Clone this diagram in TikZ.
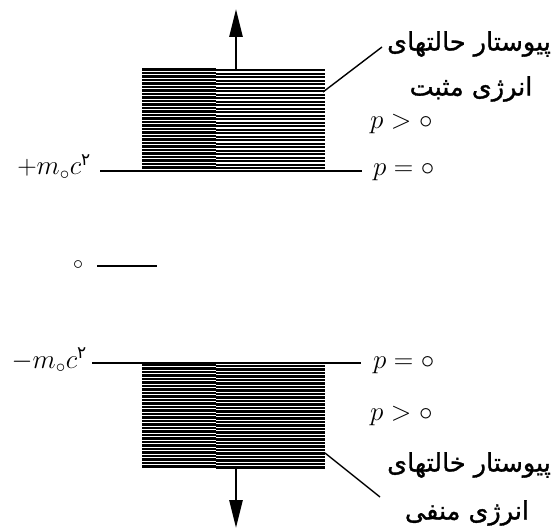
\documentclass[tikz,border=0pt]{standalone}
\usepackage{fix-cm}
\usepackage{fontspec}
\newfontfamily\arabicfont[Script=Arabic,FakeBold=1.2]{DejaVu Sans}
\newfontfamily\arabicdigit[Script=Arabic]{DejaVu Sans}
\TeXXeTstate=1
\usetikzlibrary{arrows.meta}
\newcommand{\fatwo}{\hbox{\arabicdigit\fontsize{17}{17}\selectfont ۲}}
\begin{document}
\begin{tikzpicture}[x=1pt,y=-1pt,
  lbl/.style={inner sep=0pt, font=\fontsize{27}{27}\selectfont},
  fa/.style={inner sep=0pt, font=\arabicfont\fontsize{25.5}{25.5}\selectfont},
  lev/.style={line width=1.6pt},
  hatch/.style={line width=2.4pt},
  bigarrow/.style={line width=2.6pt,-{Triangle[length=28pt,width=13pt]}},
  leader/.style={line width=1.4pt}]
\useasboundingbox (0,0) rectangle (560,532);
% hatched continua
\foreach \y in {69.5,73,...,170} {
  \draw[hatch] (142,\y) -- (216,\y);
  \draw[hatch] (216,\y+0.8) -- (325,\y+0.8);
}
\foreach \y in {365,368.5,...,467} {
  \draw[hatch] (142,\y) -- (216,\y);
  \draw[hatch] (216,\y+0.8) -- (325,\y+0.8);
}
% arrows
\coordinate (upbase) at (236,69);
\coordinate (uptip) at (236,9);
\coordinate (dnbase) at (236,468);
\coordinate (dntip) at (236,528);
\draw[bigarrow] (upbase) -- (uptip);
\draw[bigarrow] (dnbase) -- (dntip);
% level labels
\node[lbl, anchor=base east] (plusm) at (91,175) {$+m_\circ c^{\fatwo}$};
\node[lbl, anchor=base east] (minusm) at (87,368) {$-m_\circ c^{\fatwo}$};
\node[lbl, anchor=base west] (pzu) at (373,176) {$p=\circ$};
\node[lbl, anchor=base west] (pgu) at (370,129) {$p>\circ$};
\node[lbl, anchor=base west] (pzl) at (373,368) {$p=\circ$};
\node[lbl, anchor=base west] (pgl) at (370,420) {$p>\circ$};
\node[lbl, font=\fontsize{20}{20}\selectfont] (zero) at (78,265) {$\circ$};
% level lines
\coordinate (ua) at (100,171);
\coordinate (ub) at (362,171);
\coordinate (la) at (92,363);
\coordinate (lb) at (361,363);
\coordinate (za) at (97,266);
\coordinate (zb) at (157,266);
\draw[lev] (ua) -- (ub);
\draw[lev] (la) -- (lb);
\draw[lev] (za) -- (zb);
% Persian captions
\node[fa] (pos1) at (469,44) {\beginR پیوستار حالتهای\endR};
\node[fa] (pos2) at (471,89) {\beginR انرژی مثبت\endR};
\node[fa] (neg1) at (469,465) {\beginR پیوستار خالتهای\endR};
\node[fa] (neg2) at (467,513) {\beginR انرژی منفی\endR};
% leaders
\coordinate (ul1) at (323,92);
\coordinate (ul2) at (382,47);
\coordinate (ll1) at (325,453);
\coordinate (ll2) at (380,497);
\draw[leader] (ul1) -- (ul2);
\draw[leader] (ll1) -- (ll2);
\end{tikzpicture}
\end{document}
